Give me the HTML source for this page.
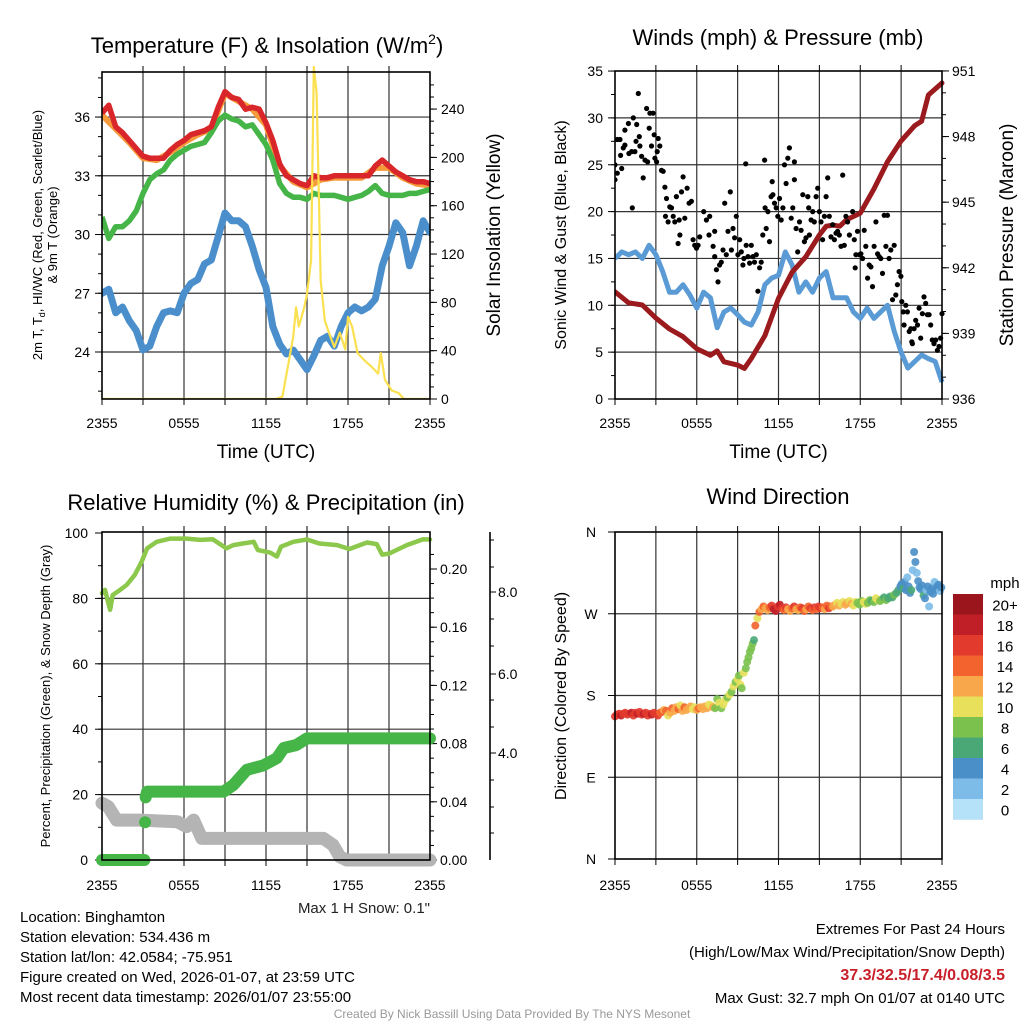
<!DOCTYPE html>
<html><head><meta charset="utf-8"><style>
html,body{margin:0;padding:0;background:#fff;}
svg{display:block;font-family:"Liberation Sans",Arial,sans-serif;}
</style></head><body>
<svg id="fig" width="1024" height="1024" viewBox="0 0 1024 1024" xmlns="http://www.w3.org/2000/svg">
<rect width="1024" height="1024" fill="#fff"/>
</svg>
<script>
// ---------- Panel 1 data ----------
const tHours = [0,0.5,1,1.5,2,2.5,3,3.5,4,4.5,5,5.5,6,6.5,7,7.5,8,8.5,9,9.5,10,10.5,11,11.5,12,12.5,13,13.5,14,14.5,15,15.5,16,16.5,17,17.5,18,18.5,19,19.5,20,20.5,21,21.5,22,22.5,23,23.5,24];
const tempRed = [36.2,36.6,35.5,35.2,34.8,34.4,34.0,33.9,33.9,33.9,34.3,34.6,34.8,35.1,35.2,35.3,35.5,36.5,37.3,37.0,36.9,36.4,36.5,36.4,35.7,34.8,33.6,33.0,32.8,32.6,32.5,33.0,32.9,32.9,33.0,33.0,33.0,33.0,33.0,33.0,33.5,33.8,33.5,33.2,33.0,32.8,32.7,32.7,32.6];
const hiwcGreen = [30.9,29.8,30.4,30.4,30.7,31.2,32.1,32.8,33.1,33.3,33.8,34.1,34.3,34.5,34.6,34.7,35.2,35.8,36.1,35.9,35.8,35.5,35.6,35.1,34.6,33.8,32.6,32.1,31.9,31.9,31.8,32.1,32.0,32.0,32.0,31.9,31.8,31.9,32.0,32.2,32.5,32.1,32.0,32.0,32.0,32.1,32.1,32.2,32.3];
const dewBlue = [27.0,27.2,26.0,26.3,25.6,25.1,24.1,24.3,25.3,26.0,26.1,26.0,27.0,27.5,27.7,28.5,28.7,29.9,31.1,30.7,30.7,30.4,29.4,28.2,27.3,25.3,24.4,23.9,24.1,23.6,23.1,23.8,24.6,24.8,24.3,25.3,26.0,26.3,26.1,26.3,26.7,28.4,29.4,30.6,30.1,28.4,29.4,30.7,30.1];
const orangeHours = [0,1,2,3,4,5,6,7,8,9,10,11,12,13,14,15,16,17,18,19,20,21,22,23,24];
const temp9m = [36.1,35.4,34.7,33.9,33.8,34.2,34.7,35.1,35.4,37.2,36.8,36.4,35.6,33.5,32.7,32.4,32.8,32.9,32.9,32.9,33.4,33.4,32.9,32.6,32.5];
const solarHours = [0,12.7,13.2,13.6,14,14.2,14.4,14.8,15,15.3,15.5,15.7,16,16.3,16.6,17,17.4,17.8,18,18.3,18.7,19.2,19.7,20.2,20.4,20.7,21.2,21.7,22.1,24];
const solarVals = [0,0,2,27,52,76,60,76,87,115,275,253,98,65,55,43,55,41,68,60,38,32,27,21,38,16,7,5,0,0];
const tempTicks = [24,27,30,33,36];
const solarTicks = [0,40,80,120,160,200,240];
const timeLabels = ["2355","0555","1155","1755","2355"];

// ---------- Panel 2 data ----------
const wHours = [0,0.5,1,1.5,2,2.5,3,3.5,4,4.5,5,5.5,6,6.5,7,7.5,8,8.5,9,9.5,10,10.5,11,11.5,12,12.5,13,13.5,14,14.5,15,15.5,16,16.5,17,17.5,18,18.5,19,19.5,20,20.5,21,21.5,22,22.5,23,23.5,24];
const windSonic = [15.0,15.7,15.4,15.7,15.0,16.4,15.4,13.6,11.4,11.4,12.2,11.1,9.7,11.4,10.8,7.6,9.3,9.7,9.0,8.2,7.9,9.3,12.2,12.9,13.2,15.7,14.3,11.4,12.5,11.4,12.9,13.6,10.8,10.8,10.8,9.3,8.6,9.7,8.6,9.3,10.0,7.2,5.0,3.3,4.0,4.7,4.3,4.0,1.8];
const presHours = [0,1,2,3,4,5,6,7,7.5,8,9,9.5,10,11,12,13,14,15,15.5,16,16.5,17,18,19,20,21,22,22.5,23,24];
const pressure = [940.9,940.4,940.3,939.7,939.2,938.85,938.3,938.0,938.2,937.7,937.55,937.4,937.85,938.9,940.6,941.8,942.5,943.5,943.9,943.95,943.9,944.2,944.5,945.6,946.85,947.8,948.5,948.7,949.9,950.45];
const gustHours = [0,0,.17,.17,.37,.49,.41,.61,.73,.73,.98,1.02,1.22,1.27,1.34,1.46,1.54,1.59,1.71,1.78,1.83,1.95,2.07,2.2,2.32,2.39,2.51,2.56,2.68,2.8,2.88,2.93,3.05,3.1,3.17,3.29,3.41,3.54,3.66,3.71,3.78,3.9,4.02,4.15,4.27,4.39,4.51,4.63,4.71,4.76,4.88,5.0,5.12,5.29,5.44,5.61,5.73,5.85,5.98,6.1,6.22,6.51,6.71,6.9,6.95,7.2,7.32,7.32,7.44,7.56,7.68,7.8,7.93,8.05,8.17,8.29,8.46,8.54,8.66,8.78,8.9,9.02,9.15,9.27,9.39,9.46,9.59,9.63,9.76,9.88,10.0,10.12,10.24,10.37,10.49,10.61,10.73,10.85,10.98,11.02,11.1,11.22,11.34,11.46,11.54,11.59,11.71,11.83,11.95,12.07,12.2,12.32,12.44,12.56,12.68,12.8,12.93,13.05,13.17,13.17,13.29,13.41,13.54,13.66,13.78,13.9,14.02,14.15,14.22,14.27,14.39,14.51,14.63,14.76,14.88,15.0,15.12,15.24,15.37,15.49,15.61,15.73,15.85,15.98,16.1,16.22,16.34,16.46,16.59,16.71,16.83,16.95,17.07,17.2,17.44,17.56,17.63,17.68,17.8,17.93,18.05,18.17,18.29,18.41,18.54,18.66,18.78,18.9,19.02,19.15,19.27,19.39,19.51,19.63,19.76,19.88,20.0,20.12,20.24,20.37,20.49,20.61,20.73,20.85,20.98,21.05,21.15,21.22,21.34,21.46,21.59,21.71,21.78,21.83,21.95,22.07,22.2,22.32,22.44,22.56,22.68,22.8,22.93,23.05,23.17,23.29,23.41,23.54,23.66,23.78,23.9,24.0];
const gustVals = [25.0,23.4,24.1,27.7,27.7,24.6,26.0,26.8,27.1,28.7,29.4,26.2,26.4,20.4,30.0,26.4,27.5,29.3,32.6,28.0,27.0,25.9,23.6,25.5,31.0,25.3,28.9,30.5,27.0,30.5,28.2,25.7,25.3,26.4,27.8,27.0,24.4,24.3,22.6,19.5,21.4,18.9,20.5,20.4,19.5,18.9,21.6,16.6,19.1,17.5,22.1,23.7,19.3,22.5,20.9,21.1,17.0,16.4,16.1,16.4,17.3,20.0,19.1,17.5,19.5,16.3,15.2,17.9,13.8,12.5,14.3,14.6,15.9,20.9,15.4,17.9,22.1,15.9,18.2,17.2,19.5,15.4,17.0,15.7,14.3,15.0,25.1,16.4,15.2,14.5,16.4,15.2,14.6,15.4,11.5,14.0,14.6,17.5,25.5,20.4,18.2,20.0,16.8,21.6,23.2,21.8,20.9,20.4,19.5,21.4,19.1,20.4,25.0,23.0,25.7,26.8,19.3,20.4,25.3,23.4,18.2,15.7,18.9,18.0,21.8,16.8,17.2,21.6,20.4,17.5,19.1,20.0,18.9,21.6,22.5,20.0,18.9,17.0,19.5,21.6,23.6,19.5,17.3,18.6,17.0,17.7,17.9,17.5,16.3,23.9,16.4,19.5,18.9,17.5,20.0,17.0,14.0,15.4,17.9,15.4,15.5,15.0,18.0,16.3,12.9,14.3,14.1,12.0,16.3,18.9,15.5,15.2,15.0,13.4,19.6,16.3,19.6,15.0,15.9,10.6,16.4,11.1,12.2,13.6,13.1,10.4,9.3,7.9,10.0,9.3,7.2,7.5,6.1,5.9,7.5,8.4,7.9,9.7,6.5,9.1,10.9,10.2,9.0,9.0,7.9,6.3,5.9,6.3,5.2,5.6,6.5,9.1];
const windTicks = [0,5,10,15,20,25,30,35];
const presTicks = [936,939,942,945,948,951];

// ---------- Panel 3 data ----------
const rhHours = [0,0.22,0.59,0.78,1.32,1.8,2.4,2.9,3.3,4,5,6.2,7.2,8.1,9.1,9.6,10.3,11.1,11.4,12.3,12.8,13.1,14,15,15.9,17.2,18.1,19.4,20.1,20.5,21,22.3,23.5,24];
const rhVals = [81.6,82.6,76.5,81.0,82.6,84.1,87.2,91.2,95.3,97.3,98.3,98.3,97.9,98.1,95.3,96.3,96.8,97.3,94.8,94.0,92.8,95.8,97.3,98.0,96.8,96.3,95.1,97.1,96.6,93.4,93.7,96.3,98.1,98.0];
const precipHours = [0,3.1,null,3.15,null,3.2,3.3,8.9,9.6,10.6,11.8,12.8,13.3,14.2,15.0,24];
const precipVals = [0,0,null,0.026,null,0.043,0.047,0.047,0.0515,0.062,0.065,0.070,0.077,0.079,0.0836,0.0836];
const snowHours = [0,0.46,1.07,2.8,5.5,6.2,6.7,7.3,16.2,16.9,17.4,17.9,24];
const snowPct = [17.4,16.3,12.2,12.2,11.7,10.2,12.2,6.6,6.6,4.6,1.0,0,0];
const rhTicks = [0,20,40,60,80,100];
const precipTicks = [0,0.04,0.08,0.12,0.16,0.20];
const snowTicks = ["4.0","6.0","8.0"];

// ---------- Panel 4 data ----------
const dirHours = [0,0.15,0.3,0.45,0.6,0.75,0.9,1.05,1.2,1.35,1.5,1.65,1.8,1.95,2.1,2.25,2.4,2.55,2.7,2.85,3.0,3.15,3.3,
3.45,3.6,3.75,3.9,4.05,4.2,4.35,4.5,4.65,4.8,4.95,5.1,5.25,5.4,5.55,5.7,5.85,6.0,6.15,6.3,6.45,6.6,6.75,6.9,7.05,7.2,7.35,7.5,7.65,7.8,7.95,8.1,8.25,8.4,
8.55,8.7,8.85,9.0,9.1,9.2,9.3,9.45,9.6,9.7,9.8,9.9,10.0,10.1,10.2,10.3,10.45,
10.6,10.75,10.9,11.05,11.2,11.35,11.5,11.65,11.8,11.95,12.1,12.25,12.4,12.55,12.7,12.85,13.0,13.15,13.3,13.45,13.6,13.75,13.9,14.05,14.2,14.35,14.5,14.65,14.8,14.95,15.1,15.25,15.4,15.55,15.7,15.85,
16.0,16.15,16.3,16.45,16.6,16.75,16.9,17.05,17.2,17.35,17.5,17.65,17.8,17.95,18.1,18.25,18.4,18.55,18.7,18.85,19.0,19.15,19.3,19.45,19.6,19.75,19.9,20.05,20.2,20.35,20.5,20.65,20.8,
20.95,21.05,21.15,21.25,21.35,21.45,21.55,21.65,21.75,21.85,21.95,22.05,22.15,22.25,22.35,22.45,22.55,22.65,22.75,22.85,22.95,23.05,23.15,23.25,23.35,23.45,23.55,23.65,23.75,23.85,23.95];
const dirDeg = [157,159,160,158,160,161,159,160,161,158,161,160,162,159,160,161,158,160,159,161,160,158,161,
162,164,163,158,161,166,163,167,165,169,163,167,164,166,168,165,167,164,166,167,165,168,166,170,169,167,166,176,172,166,170,175,178,181,
184,190,195,198,202,192,188,205,210,217,222,228,232,237,241,257,265,
272,275,278,276,274,277,279,275,273,278,280,276,274,277,275,273,276,278,275,274,277,276,273,275,278,276,274,277,275,278,276,277,275,279,276,278,
278,280,282,279,281,283,280,282,284,281,279,283,282,280,284,283,281,282,285,284,283,287,285,284,286,288,285,287,289,288,291,293,296,
300,303,298,305,296,310,300,293,296,318,338,327,315,306,299,297,301,290,287,296,300,278,294,298,292,305,297,300,302,295,299];
const dirSpeed = [15,16,16,17,16,16,15,16,17,16,16,17,16,16,17,15,16,16,17,16,16,15,14,
13,11,13,10,12,14,12,11,13,10,12,14,12,11,12,10,9,11,13,12,11,12,12,10,9,11,8,8,10,8,9,10,8,9,
8,9,8,9,7,10,8,9,8,8,8,8,7,8,6,14,10,
13,12,14,12,11,13,15,17,18,16,17,15,14,16,12,11,13,15,12,11,14,15,13,12,14,15,13,16,14,15,16,13,12,14,15,14,
12,11,10,12,10,9,11,12,10,11,10,9,8,7,8,9,10,8,7,6,8,9,10,8,7,6,7,6,5,6,7,6,5,
4,4,5,3,4,2,3,4,5,2,4,4,2,3,4,4,3,5,4,2,3,2,4,3,4,2,3,4,3,2,3];
const dirLabels = ["N","E","S","W","N"];
const speedLabels = ["0","2","4","6","8","10","12","14","16","18","20+"];
const speedColors = ["#b5e2f8","#7dbce8","#4a8fc8","#4aa877","#7ac14e","#e8e05a","#f8a84a","#f2632d","#e23a2d","#c01f28","#9a161c"];

// ---------- drawing helpers ----------
const NS = "http://www.w3.org/2000/svg";
const svg = document.getElementById("fig");
function mk(tag, attrs, parent){
  const e = document.createElementNS(NS, tag);
  for (const k in attrs) e.setAttribute(k, attrs[k]);
  (parent||svg).appendChild(e);
  return e;
}
function txt(x,y,s,size,anchor,parent,fill,weight,rot){
  const e = mk("text",{x:x,y:y,"font-size":size,"text-anchor":anchor||"start",fill:fill||"#000"},parent);
  if (weight) e.setAttribute("font-weight",weight);
  if (rot) e.setAttribute("transform","rotate(-90 "+x+" "+y+")");
  e.textContent = s;
  return e;
}
function ln(x1,y1,x2,y2,c,w,parent){ return mk("line",{x1:x1,y1:y1,x2:x2,y2:y2,stroke:c||"#000","stroke-width":w||1},parent); }
function pathFrom(xs, ys, fx, fy){
  let d = "", n = 0;
  for (let i=0;i<=xs.length;i++){
    if (i===xs.length || xs[i]===null || ys[i]===null){
      if (n===1) d += "l0.01,0";
      n = 0; continue;
    }
    d += (n>0?"L":"M") + fx(xs[i]).toFixed(1) + "," + fy(ys[i]).toFixed(1);
    n++;
  }
  return d;
}
function frame(g,x0,y0,x1,y1){
  mk("rect",{x:x0,y:y0,width:x1-x0,height:y1-y0,fill:"none",stroke:"#000","stroke-width":1.6},g);
}
function vgrid(g,x0,x1,y0,y1){
  for (let h=3; h<24; h+=3){
    const x = x0 + (x1-x0)*h/24;
    ln(x,y0,x,y1,"#333",1.2,g);
    ln(x,y0-6,x,y0,"#000",1,g); ln(x,y1,x,y1+6,"#000",1,g);
  }
  ln(x0,y1,x0,y1+6,"#000",1,g); ln(x1,y1,x1,y1+6,"#000",1,g);
}
function timeAxis(g,x0,x1,y,title){
  timeLabels.forEach((s,i)=>{
    const t = txt(x0+(x1-x0)*i/4, y, s, 14, "middle", g);
    
    
  });
  if (title){
    const t = txt((x0+x1)/2, y+30, "Time (UTC)", 19, "middle", g);
    
    
  }
}

// ================= PANEL 1 =================
(function(){
  const g = mk("g",{});
  
  
  const x0=102,x1=430,y0=72,y1=399;
  const fx = h => x0 + (x1-x0)*h/24;
  const fy = T => 352 - (T-24)*19.58;
  const fs = v => 399 - v*1.208;
  tempTicks.forEach(T=>{ ln(x0,fy(T),x1,fy(T),"#333",1.2,g); ln(x0-7,fy(T),x0,fy(T),"#000",1,g);
    const t=txt(x0-12,fy(T)+5,String(T),14,"end",g);   });
  for (let T=22;T<=38;T++){ if (fy(T)>y0 && fy(T)<y1) ln(x0-4,fy(T),x0,fy(T),"#000",1,g); }
  solarTicks.forEach(v=>{ ln(x1,fs(v),x1+7,fs(v),"#000",1,g);
    const t=txt(x1+11,fs(v)+5,String(v),14,"start",g);   });
  for (let v=0; v<=260; v+=10){ if (fs(v)>=y0) ln(x1,fs(v),x1+4,fs(v),"#000",1,g); }
  vgrid(g,x0,x1,y0,y1);
  const clip = mk("clipPath",{id:"c1"},g); mk("rect",{x:x0,y:y0-6,width:x1-x0,height:y1-y0+6},clip);
  const s = mk("g",{"clip-path":"url(#c1)"},g);
  let p;
  p = mk("path",{d:pathFrom(tHours,dewBlue,fx,fy),fill:"none",stroke:"#4a8fcc","stroke-width":7,"stroke-linejoin":"round","stroke-linecap":"round"},s);
   
  p = mk("path",{d:pathFrom(orangeHours,temp9m,fx,fy),fill:"none",stroke:"#f59a3a","stroke-width":6,"stroke-linejoin":"round"},s);
   
  p = mk("path",{d:pathFrom(tHours,hiwcGreen,fx,fy),fill:"none",stroke:"#45b548","stroke-width":5.5,"stroke-linejoin":"round"},s);
   
  p = mk("path",{d:pathFrom(tHours,tempRed,fx,fy),fill:"none",stroke:"#d9262a","stroke-width":5.5,"stroke-linejoin":"round"},s);
   
  p = mk("path",{d:pathFrom(solarHours,solarVals,fx,fs),fill:"none",stroke:"#fbe050","stroke-width":2.2,"stroke-linejoin":"round"},s);
   
  frame(g,x0,y0,x1,y1);
  timeAxis(g,x0,x1,428,true);
  const t1 = mk("text",{x:267,y:53,"font-size":22,"text-anchor":"middle"},g);
   
  t1.innerHTML = 'Temperature (F) &amp; Insolation (W/m<tspan dy="-9" font-size="14">2</tspan><tspan dy="9">)</tspan>';
  const yl = mk("text",{x:42,y:235,"font-size":13,"text-anchor":"middle",transform:"rotate(-90 42 235)"},g);
   
  yl.innerHTML = '2m T, T<tspan dy="3" font-size="9">d</tspan><tspan dy="-3">, HI/WC (Red, Green, Scarlet/Blue)</tspan>';
  const yl2 = txt(57,235,"& 9m T (Orange)",13,"middle",g,"#000",null,true);
   
  const yr = txt(500,235,"Solar Insolation (Yellow)",19,"middle",g,"#000",null,true);
   
})();

// ================= PANEL 2 =================
(function(){
  const g = mk("g",{});
  
  
  const x0=615,x1=942,y0=71,y1=399;
  const fx = h => x0 + (x1-x0)*h/24;
  const fy = v => 399 - v*9.37;
  const fp = p => 399 - (p-936)*21.87;
  windTicks.forEach(v=>{ if(v>0&&v<35) ln(x0,fy(v),x1,fy(v),"#333",1.2,g); ln(x0-7,fy(v),x0,fy(v),"#000",1,g);
    const t=txt(x0-12,fy(v)+5,String(v),14,"end",g);   });
  for (let v=0; v<=35; v+=2.5) ln(x0-4,fy(v),x0,fy(v),"#000",1,g);
  presTicks.forEach(p=>{ ln(x1,fp(p),x1+7,fp(p),"#000",1,g);
    const t=txt(x1+10,fp(p)+5,String(p),14,"start",g);   });
  for (let p=936; p<=951; p+=1) ln(x1,fp(p),x1+4,fp(p),"#000",1,g);
  vgrid(g,x0,x1,y0,y1);
  const clip = mk("clipPath",{id:"c2"},g); mk("rect",{x:x0,y:y0-4,width:x1-x0+4,height:y1-y0+8},clip);
  const s = mk("g",{"clip-path":"url(#c2)"},g);
  let p = mk("path",{d:pathFrom(wHours,windSonic,fx,fy),fill:"none",stroke:"#5b9bd5","stroke-width":5,"stroke-linejoin":"round"},s);
   
  p = mk("path",{d:pathFrom(presHours,pressure,fx,fp),fill:"none",stroke:"#9b1a1e","stroke-width":5,"stroke-linejoin":"round","stroke-linecap":"round"},s);
   
  for (let i=0;i<gustHours.length;i++){
    const c = mk("circle",{cx:fx(gustHours[i]).toFixed(1),cy:fy(gustVals[i]).toFixed(1),r:2.6,fill:"#000"},s);
    
    
  }
  frame(g,x0,y0,x1,y1);
  timeAxis(g,x0,x1,428,true);
  const t = txt(778,45,"Winds (mph) & Pressure (mb)",22,"middle",g);
   
  const yl = txt(566,235,"Sonic Wind & Gust (Blue, Black)",16,"middle",g,"#000",null,true);
   
  const yr = txt(1013,235,"Station Pressure (Maroon)",19,"middle",g,"#000",null,true);
   
})();

// ================= PANEL 3 =================
(function(){
  const g = mk("g",{});
  
  
  const x0=102,x1=430,y0=532,y1=860;
  const fx = h => x0 + (x1-x0)*h/24;
  const fy = v => 860 - v*3.27;
  const fpr = p => 860 - p*1455;
  rhTicks.forEach(v=>{ if(v>0&&v<100) ln(x0,fy(v),x1,fy(v),"#333",1.2,g); ln(x0-7,fy(v),x0,fy(v),"#000",1,g);
    const t=txt(x0-14,fy(v)+5,String(v),14,"end",g);   });
  for (let v=0; v<=100; v+=10) ln(x0-4,fy(v),x0,fy(v),"#000",1,g);
  precipTicks.forEach(p=>{ ln(x1,fpr(p),x1+7,fpr(p),"#000",1,g);
    const t=txt(x1+10,fpr(p)+5,p.toFixed(2),14,"start",g);   });
  for (let p=0; p<=0.22; p+=0.01) ln(x1,fpr(p),x1+4,fpr(p),"#000",1,g);
  vgrid(g,x0,x1,y0,y1);
  ln(490,532,490,860,"#000",1.6,g);
  const snowY = [753,674,592];
  snowTicks.forEach((s,i)=>{ ln(490,snowY[i],496,snowY[i],"#000",1,g);
    const t=txt(498,snowY[i]+5,s,14,"start",g);   });
  [540,567,619,646,700,727,780,807,833].forEach(y=>ln(490,y,494,y,"#000",1,g));
  let p = mk("path",{d:pathFrom(snowHours,snowPct,fx,fy),fill:"none",stroke:"#b4b4b4","stroke-width":13,"stroke-linejoin":"round","stroke-linecap":"round"},g);
   
  p = mk("path",{d:pathFrom(precipHours,precipVals,fx,fpr),fill:"none",stroke:"#45b548","stroke-width":12,"stroke-linejoin":"round","stroke-linecap":"round"},g);
   
  p = mk("path",{d:pathFrom(rhHours,rhVals,fx,fy),fill:"none",stroke:"#8cc84b","stroke-width":4.5,"stroke-linejoin":"round","stroke-linecap":"round"},g);
   
  frame(g,x0,y0,x1,y1);
  timeAxis(g,x0,x1,890,false);
  const t = txt(266,510,"Relative Humidity (%) & Precipitation (in)",22,"middle",g);
   
  const yl = txt(50,696,"Percent, Precipitation (Green), & Snow Depth (Gray)",13,"middle",g,"#000",null,true);
   
  const sn = txt(430,913,'Max 1 H Snow: 0.1"',15,"end",g,"#222");
   
})();

// ================= PANEL 4 =================
(function(){
  const g = mk("g",{});
  
  
  const x0=615,x1=942,y0=532,y1=859;
  const fx = h => x0 + (x1-x0)*h/24;
  const fy = d => 859 - d*0.9083;
  dirLabels.forEach((s,i)=>{ const y=fy(i*90); if(i>0&&i<4) ln(x0,y,x1,y,"#333",1.2,g); ln(x0-7,y,x0,y,"#000",1,g);
    const t=txt(591,y+5,s,14,"middle",g);   });
  vgrid(g,x0,x1,y0,y1);
  function col(sp){ let i=Math.round(sp/2); if(i>10)i=10; if(i<0)i=0; return speedColors[i]; }
  for (let i=0;i<dirHours.length;i++){
    const c = mk("circle",{cx:fx(dirHours[i]).toFixed(1),cy:fy(dirDeg[i]).toFixed(1),r:4,fill:col(dirSpeed[i]),"fill-opacity":0.9},g);
    
    
  }
  frame(g,x0,y0,x1,y1);
  timeAxis(g,x0,x1,890,false);
  const t = txt(778,504,"Wind Direction",22,"middle",g);
   
  const yl = txt(566,696,"Direction (Colored By Speed)",16,"middle",g,"#000",null,true);
   
  const cb = mk("g",{},g);
   
  const top=594, bh=20.5;
  for (let i=0;i<11;i++){
    const k = 10-i;
    mk("rect",{x:953,y:(top+i*bh).toFixed(1),width:30,height:bh+0.3,fill:speedColors[k]},cb);
    const l = txt(1005,top+i*bh+bh/2+6,speedLabels[k],15,"middle",cb);
     
  }
  const u = txt(1005,588,"mph",15,"middle",cb);
   
})();

// ================= FOOTER TEXT =================
(function(){
  const g = mk("g",{});
  
  
  const lines = ["Location: Binghamton","Station elevation: 534.436 m","Station lat/lon: 42.0584; -75.951","Figure created on Wed, 2026-01-07, at 23:59 UTC","Most recent data timestamp: 2026/01/07 23:55:00"];
  lines.forEach((s,i)=>{ const t=txt(20,922+i*20,s,15,"start",g);   });
  const r = mk("g",{});
  
  
  let t = txt(1005,934,"Extremes For Past 24 Hours",15,"end",r);  
  t = txt(1005,957,"(High/Low/Max Wind/Precipitation/Snow Depth)",15,"end",r);  
  t = txt(1005,980,"37.3/32.5/17.4/0.08/3.5",16,"end",r,"#c8202a","bold");  
  t = txt(1005,1003,"Max Gust: 32.7 mph On 01/07 at 0140 UTC",15,"end",r);  
  t = txt(512,1018,"Created By Nick Bassill Using Data Provided By The NYS Mesonet",12,"middle",svg,"#999");
   
})();
</script>
</body></html>
